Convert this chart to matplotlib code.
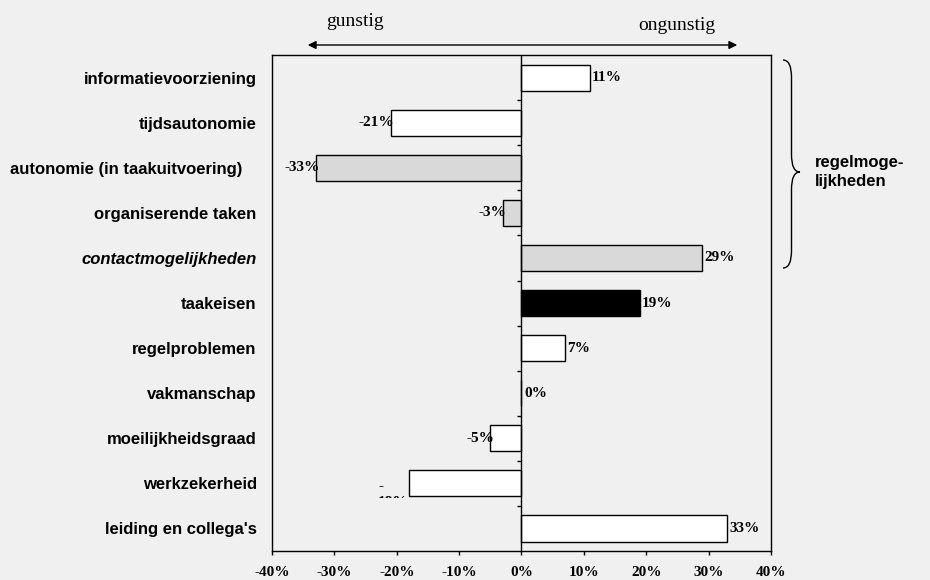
import matplotlib
matplotlib.use("Agg")
import matplotlib.pyplot as plt
from matplotlib.patches import FancyArrowPatch, PathPatch
from matplotlib.path import Path
from matplotlib.transforms import Bbox, TransformedBbox

categories = ["informatievoorziening", "tijdsautonomie", "autonomie (in taakuitvoering)   ",
              "organiserende taken", "contactmogelijkheden", "taakeisen", "regelproblemen",
              "vakmanschap", "moeilijkheidsgraad", "werkzekerheid", "leiding en collega's"]
values = [11, -21, -33, -3, 29, 19, 7, 0, -5, -18, 33]
value_labels = ["11%", "-21%", "-33%", "-3%", "29%", "19%", "7%", "0%", "-5%", "-\n18%", "33%"]
fills = ["white", "white", "#d9d9d9", "#d9d9d9", "#d9d9d9", "black", "white", "white", "white", "white", "white"]
xticks = [-40, -30, -20, -10, 0, 10, 20, 30, 40]

bg = "#f0f0f0"
sans = ["Liberation Sans", "DejaVu Sans"]
serif = ["Liberation Serif", "DejaVu Serif"]

fig = plt.figure(figsize=(9.3, 5.8), dpi=100, facecolor=bg)
ax = fig.add_axes([0.2925, 0.05, 0.5365, 0.855], facecolor=bg)

ypos = list(range(len(categories)))
ax.barh(ypos, values, height=0.58, color=fills, edgecolor="black", linewidth=1.0, zorder=3)
ax.axvline(0, color="black", linewidth=1.0, zorder=4)
ax.hlines([y + 0.5 for y in ypos[:-1]], -0.8, 0, color="black", linewidth=1.0, zorder=4)

for y, v, lab in zip(ypos, values, value_labels):
    if v > 0:
        ax.text(v + 0.3, y, lab, ha="left", va="center", fontsize=11, fontweight="bold",
                family=serif, zorder=5)
    elif v == 0:
        ax.text(0.5, y, lab, ha="left", va="center", fontsize=11, fontweight="bold",
                family=serif, zorder=5)
    elif "\n" in lab:
        # label wrapped and cut off in the original
        t = ax.text(v - 5.0, y + 0.25, lab, ha="left", va="center", fontsize=11,
                    fontweight="bold", family=serif, linespacing=1.3, zorder=5)
        t.set_clip_box(TransformedBbox(Bbox([[-40, y - 0.7], [0, y + 0.32]]), ax.transData))
        t.set_clip_on(True)
    else:
        ax.text(v + 0.6, y, lab, ha="right", va="center", fontsize=11, fontweight="bold",
                family=serif, zorder=5)

ax.set_xlim(-40, 40)
ax.set_ylim(len(categories) - 0.5, -0.5)
ax.set_xticks(xticks)
ax.set_xticklabels([f"{t}%" for t in xticks], fontsize=11, fontweight="bold", family=serif)
ax.tick_params(axis="x", direction="out", length=3, width=1, pad=8)
ax.set_yticks(ypos)
ax.set_yticklabels(categories, fontsize=12, fontweight="bold", family=sans)
ax.tick_params(axis="y", length=0, pad=11)
ax.get_yticklabels()[4].set_fontstyle("italic")
for s in ax.spines.values():
    s.set_linewidth(1.0)

# arrow and direction labels
arr = FancyArrowPatch((305 / 930, 1 - 45 / 580), (740 / 930, 1 - 45 / 580),
                      transform=fig.transFigure, arrowstyle="<|-|>", mutation_scale=12,
                      color="black", linewidth=1.0)
fig.patches.append(arr)
fig.text(355 / 930, 1 - 21 / 580, "gunstig", ha="center", va="center", fontsize=14, family=serif)
fig.text(677 / 930, 1 - 25 / 580, "ongunstig", ha="center", va="center", fontsize=14, family=serif)

# brace
bx0, bx1 = 783 / 930, 800 / 930
ytop, ymid, ybot = 1 - 60 / 580, 1 - 172 / 580, 1 - 268 / 580
xm = (bx0 + bx1) / 2
verts = [(bx0, ytop), (xm, ytop), (xm, ytop - 0.03), (xm, ymid + 0.03),
         (xm, ymid), (bx1, ymid), (bx1, ymid),
         (xm, ymid), (xm, ymid - 0.03), (xm, ybot + 0.03),
         (xm, ybot), (bx0, ybot)]
codes = [Path.MOVETO, Path.CURVE3, Path.CURVE3, Path.LINETO,
         Path.CURVE3, Path.CURVE3, Path.MOVETO,
         Path.CURVE3, Path.CURVE3, Path.LINETO,
         Path.CURVE3, Path.CURVE3]
fig.patches.append(PathPatch(Path(verts, codes), transform=fig.transFigure,
                             facecolor="none", edgecolor="black", linewidth=1.0))
fig.text(815 / 930, 1 - 172 / 580, "regelmoge-\nlijkheden", ha="left", va="center",
         fontsize=12, fontweight="bold", family=sans, linespacing=1.4)

fig.savefig("out.png", dpi=100, facecolor=bg)
